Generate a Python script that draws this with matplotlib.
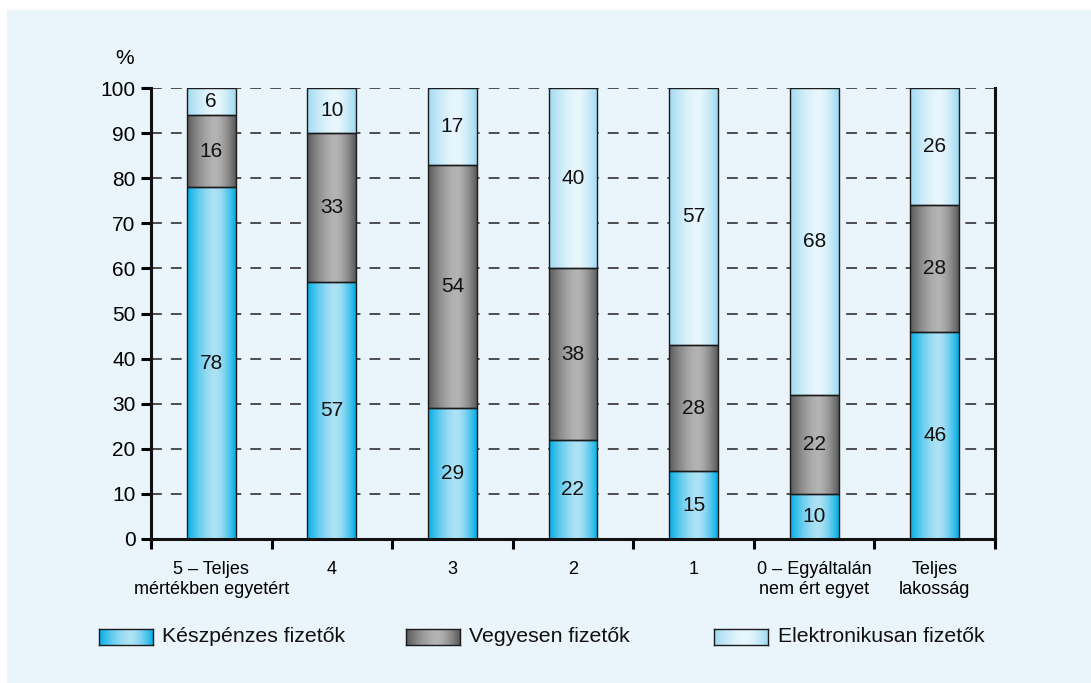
import numpy as np
import matplotlib
matplotlib.use("Agg")
import matplotlib.pyplot as plt
from matplotlib.patches import Rectangle
from matplotlib.colors import to_rgb

plt.rcParams['font.family'] = ['Liberation Sans', 'DejaVu Sans']

categories = ["5 – Teljes\nmértékben egyetért", "4", "3", "2", "1",
              "0 – Egyáltalán\nnem ért egyet", "Teljes\nlakosság"]
cash = [78, 57, 29, 22, 15, 10, 46]
mixed = [16, 33, 54, 38, 28, 22, 28]
electronic = [6, 10, 17, 40, 57, 68, 26]
series_names = ["Készpénzes fizetők", "Vegyesen fizetők", "Elektronikusan fizetők"]
yticks = list(range(0, 101, 10))

# gradient (edge colour, highlight colour)
grads = [("#00aee6", "#aee2f5"), ("#5a5a5a", "#b4b4b4"), ("#9fd9f1", "#e8f7fd")]

W, H = 1091, 683
fig = plt.figure(figsize=(W / 100, H / 100), dpi=100)
fig.patch.set_facecolor("white")
fig.add_artist(Rectangle((7 / W, 0), 1, 1 - 10 / H, transform=fig.transFigure,
                         facecolor="#eaf4fb", edgecolor="none", zorder=-10))

ax = fig.add_axes([151 / W, 1 - 539 / H, (995 - 151) / W, (539 - 88) / H])
ax.set_facecolor("none")


def grad_img(c_edge, c_mid, n=64):
    t = np.linspace(0, 1, n)
    d = np.where(t < 0.58, (0.58 - t) / 0.58, (t - 0.58) / 0.42)
    w = 1 - d ** 1.6
    e = np.array(to_rgb(c_edge))
    m = np.array(to_rgb(c_mid))
    row = e[None, :] + (m - e)[None, :] * w[:, None]
    return row[None, :, :]


x = np.arange(len(categories))
bw = 0.405
stack = [cash, mixed, electronic]
bottom = np.zeros(len(categories))
for s, vals in enumerate(stack):
    img = grad_img(*grads[s])
    for i, v in enumerate(vals):
        x0, x1 = x[i] - bw / 2, x[i] + bw / 2
        y0, y1 = bottom[i], bottom[i] + v
        ax.imshow(img, extent=[x0, x1, y0, y1], aspect="auto", zorder=2,
                  interpolation="bilinear")
        ax.add_patch(Rectangle((x0, y0), bw, v, facecolor="none",
                               edgecolor="#1a1a1a", linewidth=1.0, zorder=3))
        ax.text(x[i], y0 + v / 2, str(v), ha="center", va="center",
                fontsize=15, color="#111111", zorder=4)
    bottom += np.array(vals)

ax.set_xlim(-0.5, len(categories) - 0.5)
ax.set_ylim(0, 100)
ax.set_yticks(yticks)
ax.set_yticklabels([str(t) for t in yticks], fontsize=15)
ax.set_xticks(x)
ax.set_xticklabels(categories, fontsize=13, linespacing=1.22)
ax.set_xticks(np.arange(-0.5, len(categories)), minor=True)
ax.tick_params(axis="x", which="major", length=0, pad=16)
ax.tick_params(axis="x", which="minor", length=7, width=2.2, direction="out")
ax.tick_params(axis="y", length=7, width=2.2, direction="out", pad=4)

for yv in yticks[1:]:
    ax.axhline(yv, color="#404040", linewidth=1.3, linestyle=(0, (6, 5)), zorder=1)

for sp in ["left", "bottom", "right"]:
    ax.spines[sp].set_linewidth(2.2)
    ax.spines[sp].set_color("#111111")
ax.spines["top"].set_visible(False)

fig.text(125 / W, 1 - 58 / H, "%", fontsize=15, ha="center", va="center")

# legend
sw = [(99, 162), (406, 469), (714, 778)]
for s, (sx, tx) in enumerate(sw):
    lax = fig.add_axes([sx / W, 1 - 645 / H, 54 / W, 16 / H])
    lax.imshow(grad_img(*grads[s]), extent=[0, 1, 0, 1], aspect="auto",
               interpolation="bilinear")
    lax.set_xticks([]); lax.set_yticks([])
    for sp in lax.spines.values():
        sp.set_linewidth(1.0)
        sp.set_color("#1a1a1a")
    fig.text(tx / W, 1 - 637 / H, series_names[s], fontsize=15.3,
             ha="left", va="center", color="#111111")

fig.savefig("out.png", dpi=100, facecolor=fig.get_facecolor())
